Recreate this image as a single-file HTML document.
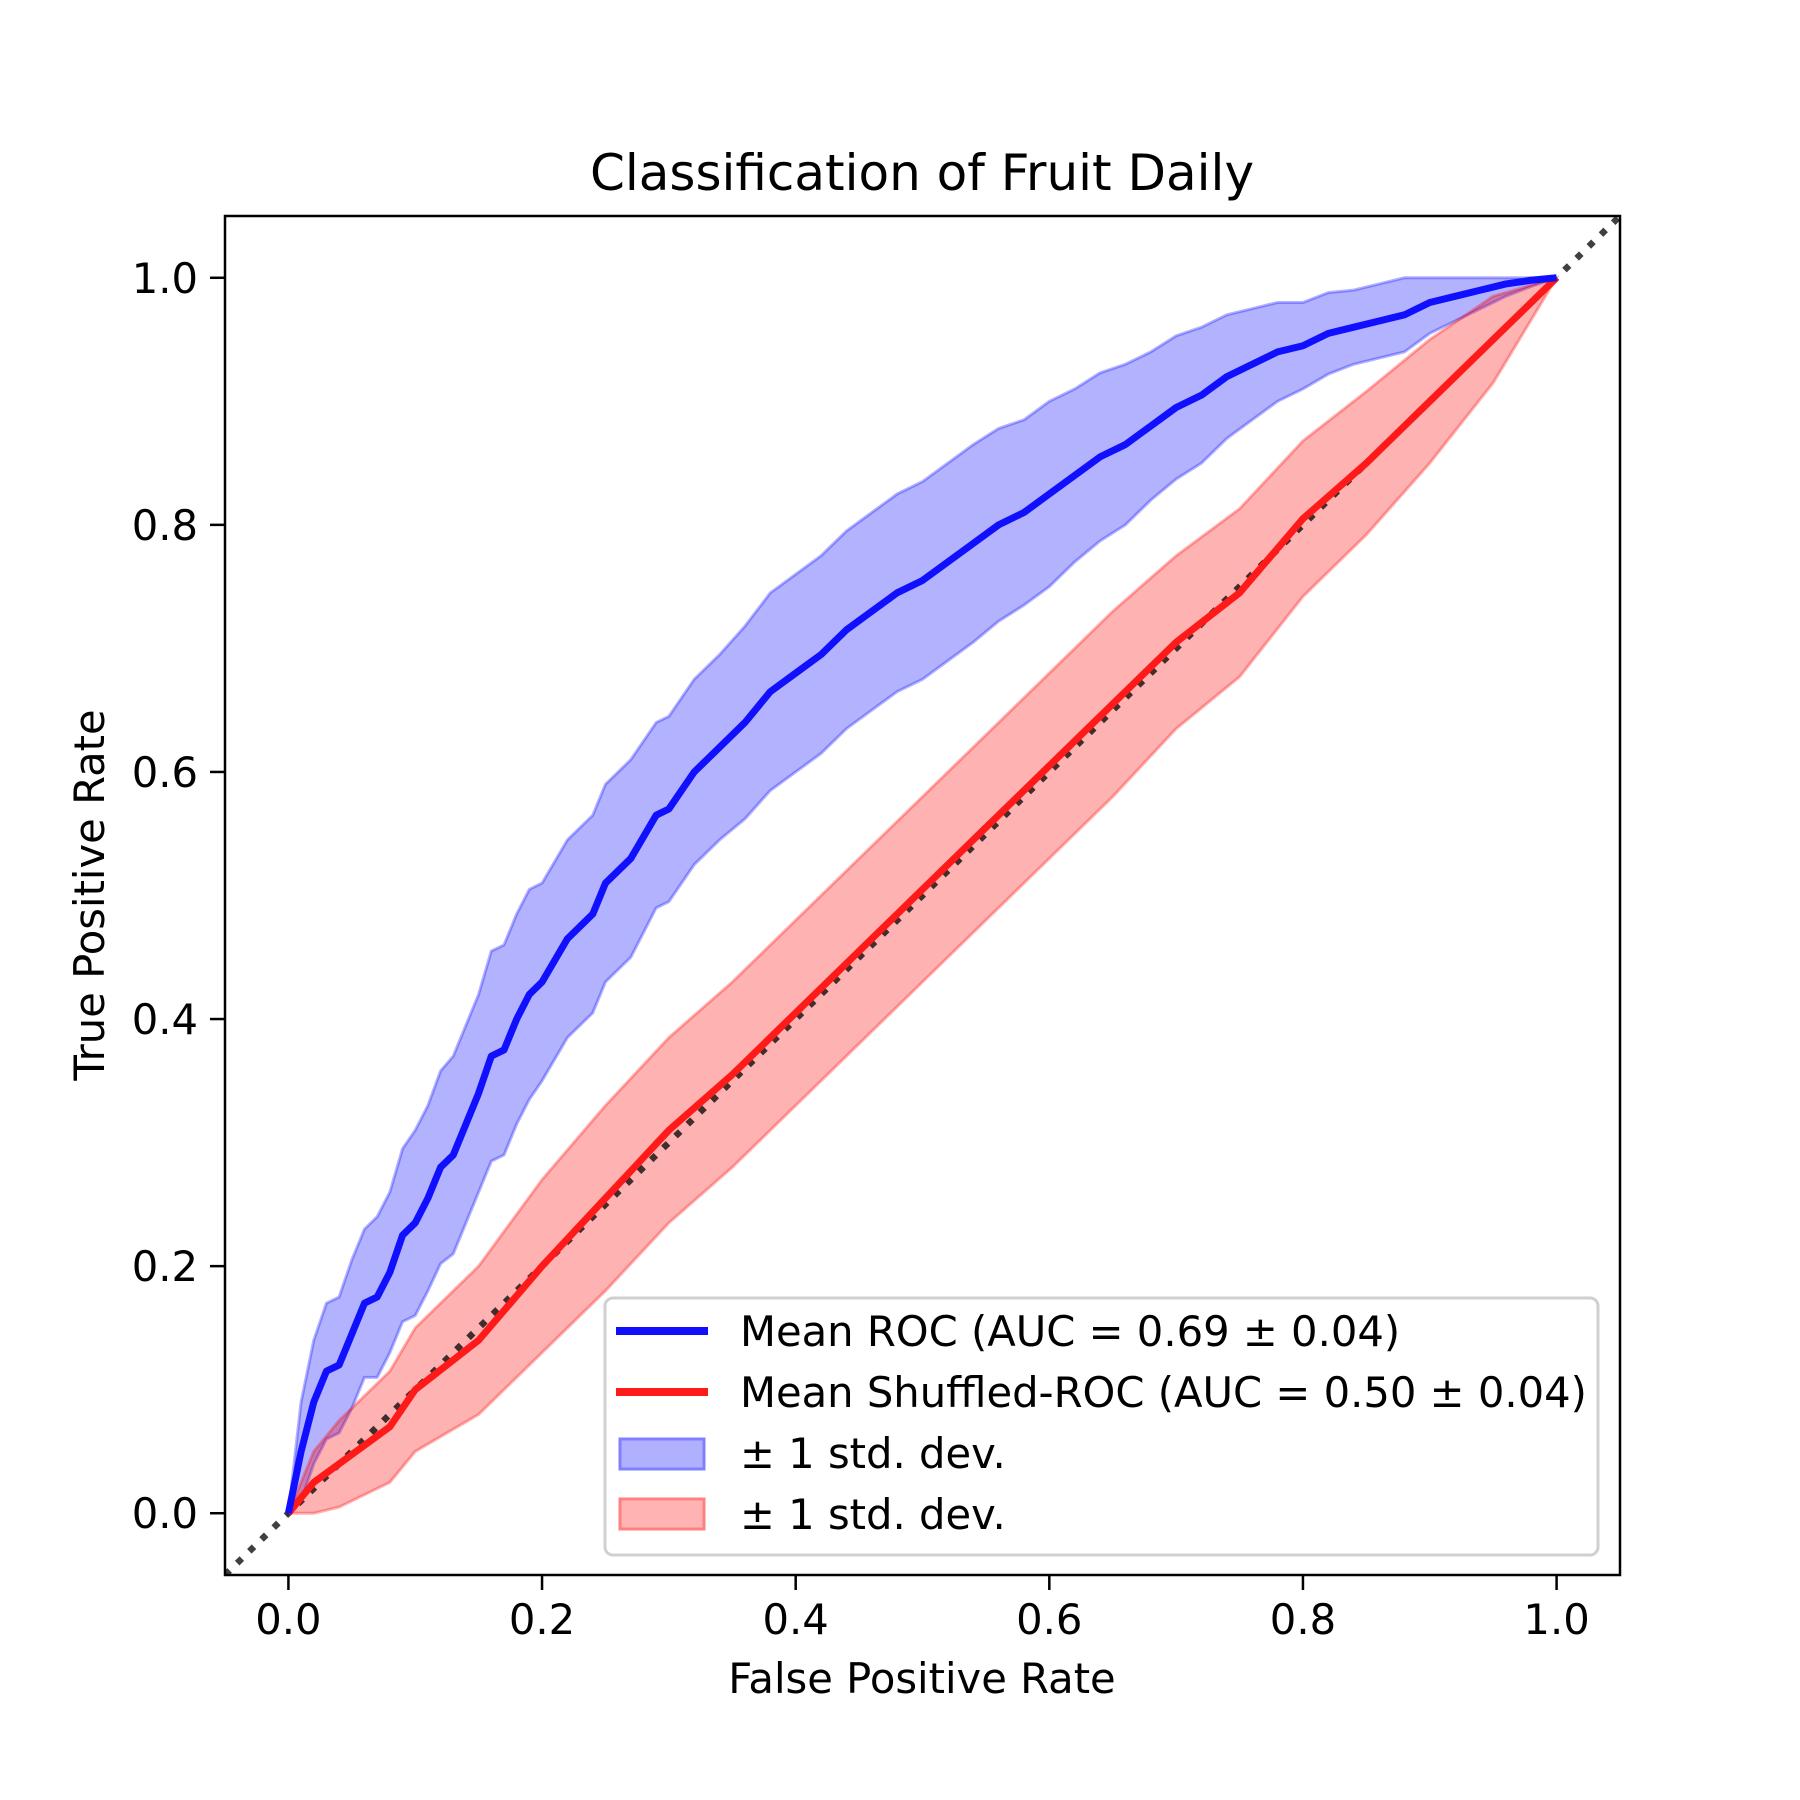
<!DOCTYPE html>
<html><head><meta charset="utf-8">
<style>
html,body{margin:0;padding:0;background:#fff;}
svg{display:block;font-family:"DejaVu Sans","Liberation Sans",sans-serif;}
</style></head>
<body>
<svg id="chart" width="1800" height="1800" viewBox="0 0 1800 1800">
<defs><clipPath id="axclip"><rect x="225" y="216" width="1395" height="1359"/></clipPath></defs>
<rect width="1800" height="1800" fill="#fff"/>
<text x="922" y="190" font-size="50" text-anchor="middle">Classification of Fruit Daily</text>
<g id="plot" clip-path="url(#axclip)"></g>
<rect x="225" y="216" width="1395" height="1359" fill="none" stroke="#000" stroke-width="2.5"/>
<g id="xt"></g><g id="yt"></g>
<text x="922" y="1693" font-size="41.7" text-anchor="middle">False Positive Rate</text>
<text transform="translate(104,895) rotate(-90)" font-size="41.7" text-anchor="middle">True Positive Rate</text>
<g>
<rect x="605" y="1298" width="993" height="257" rx="8" fill="#fff" fill-opacity="0.8" stroke="#d0d0d0" stroke-width="3"/>
<line x1="616" y1="1331" x2="708" y2="1331" stroke="#1010ff" stroke-width="8"/>
<text x="740" y="1346" font-size="41.7">Mean ROC (AUC = 0.69 ± 0.04)</text>
<line x1="616" y1="1392" x2="708" y2="1392" stroke="#ff1a1a" stroke-width="8"/>
<text x="740" y="1407" font-size="41.7">Mean Shuffled-ROC (AUC = 0.50 ± 0.04)</text>
<rect x="620" y="1439" width="84" height="30" fill="#b0b0ff" stroke="#8080ff" stroke-width="3"/>
<text x="740" y="1468" font-size="41.7">± 1 std. dev.</text>
<rect x="620" y="1499" width="84" height="30" fill="#ffb3b3" stroke="#ff8080" stroke-width="3"/>
<text x="740" y="1529" font-size="41.7">± 1 std. dev.</text>
</g>
</svg>
<script>
const ticks=[0,0.2,0.4,0.6,0.8,1.0];
const tickLabels=["0.0","0.2","0.4","0.6","0.8","1.0"];
const blueFpr=[0,0.01,0.02,0.03,0.04,0.05,0.06,0.07,0.08,0.09,0.1,0.11,0.12,0.13,0.14,0.15,0.16,0.17,0.18,0.19,0.2,0.22,0.24,0.25,0.27,0.29,0.3,0.32,0.34,0.36,0.38,0.4,0.42,0.44,0.46,0.48,0.5,0.52,0.54,0.56,0.58,0.6,0.62,0.64,0.66,0.68,0.7,0.72,0.74,0.76,0.78,0.8,0.82,0.84,0.86,0.88,0.9,0.92,0.94,0.96,0.98,1];
const blueMean=[0,0.05,0.09,0.115,0.12,0.145,0.17,0.175,0.195,0.225,0.235,0.255,0.28,0.29,0.315,0.34,0.37,0.375,0.4,0.42,0.43,0.465,0.485,0.51,0.53,0.565,0.57,0.6,0.62,0.64,0.665,0.68,0.695,0.715,0.73,0.745,0.755,0.77,0.785,0.8,0.81,0.825,0.84,0.855,0.865,0.88,0.895,0.905,0.92,0.93,0.94,0.945,0.955,0.96,0.965,0.97,0.98,0.985,0.99,0.995,0.998,1];
const blueStd=[0,0.04,0.05,0.055,0.055,0.06,0.06,0.065,0.065,0.07,0.075,0.075,0.078,0.08,0.08,0.08,0.085,0.085,0.085,0.085,0.08,0.08,0.08,0.08,0.08,0.075,0.075,0.075,0.075,0.078,0.08,0.08,0.08,0.08,0.08,0.08,0.08,0.08,0.08,0.078,0.075,0.075,0.07,0.068,0.065,0.06,0.058,0.055,0.05,0.045,0.04,0.035,0.033,0.03,0.03,0.03,0.025,0.02,0.015,0.01,0.005,0];
const redFpr=[0,0.02,0.04,0.06,0.08,0.1,0.15,0.2,0.25,0.3,0.35,0.4,0.45,0.5,0.55,0.6,0.65,0.7,0.75,0.8,0.85,0.9,0.95,1];
const redMean=[0,0.025,0.04,0.055,0.07,0.1,0.14,0.2,0.255,0.31,0.355,0.405,0.455,0.505,0.555,0.605,0.655,0.705,0.745,0.805,0.85,0.9,0.95,1];
const redStd=[0,0.025,0.035,0.04,0.045,0.05,0.06,0.07,0.075,0.075,0.075,0.075,0.075,0.075,0.075,0.075,0.075,0.07,0.068,0.063,0.058,0.05,0.035,0];

const X=v=>225+(v+0.05)/1.1*1395;
const Y=v=>1575-(v+0.05)/1.1*1359;
const NS="http://www.w3.org/2000/svg";
const plot=document.getElementById('plot');
function mk(tag,attrs,parent){const e=document.createElementNS(NS,tag);for(const k in attrs)e.setAttribute(k,attrs[k]);parent.appendChild(e);return e;}
function band(fpr,mean,std,fill,stroke,name){
  let up=fpr.map((f,i)=>X(f)+','+Y(Math.min(1,mean[i]+std[i])));
  let lo=fpr.map((f,i)=>X(f)+','+Y(Math.max(0,mean[i]-std[i]))).reverse();
  const p=mk('polygon',{points:up.concat(lo).join(' '),fill:fill,'fill-opacity':0.3,stroke:stroke,'stroke-opacity':0.3,'stroke-width':3},plot);
  
  
}
function line(fpr,mean,color,name){
  const p=mk('polyline',{points:fpr.map((f,i)=>X(f)+','+Y(mean[i])).join(' '),fill:'none',stroke:color,'stroke-width':7,'stroke-linejoin':'round'},plot);
  
  
}
band(blueFpr,blueMean,blueStd,'#0000ff','#0000ff','blue-std-band');
band(redFpr,redMean,redStd,'#ff0000','#ff0000','red-std-band');
const d=mk('line',{x1:X(-0.05),y1:Y(-0.05),x2:X(1.05),y2:Y(1.05),stroke:'#000','stroke-opacity':0.75,'stroke-width':6.5,'stroke-dasharray':'6.5 10.5'},plot);


line(redFpr,redMean,'#ff1a1a','mean-shuffled-roc-line');
line(blueFpr,blueMean,'#1010ff','mean-roc-line');
const xt=document.getElementById('xt'),yt=document.getElementById('yt');
ticks.forEach((t,i)=>{
  mk('line',{x1:X(t),y1:1575,x2:X(t),y2:1590,stroke:'#000','stroke-width':2.5},xt);
  const a=mk('text',{x:X(t),y:1634,'font-size':41.7,'text-anchor':'middle'},xt);a.textContent=tickLabels[i];
  
  
  mk('line',{x1:210,y1:Y(t),x2:225,y2:Y(t),stroke:'#000','stroke-width':2.5},yt);
  const b=mk('text',{x:198,y:Y(t)+15,'font-size':41.7,'text-anchor':'end'},yt);b.textContent=tickLabels[i];
  
  
});
</script>
</body></html>
